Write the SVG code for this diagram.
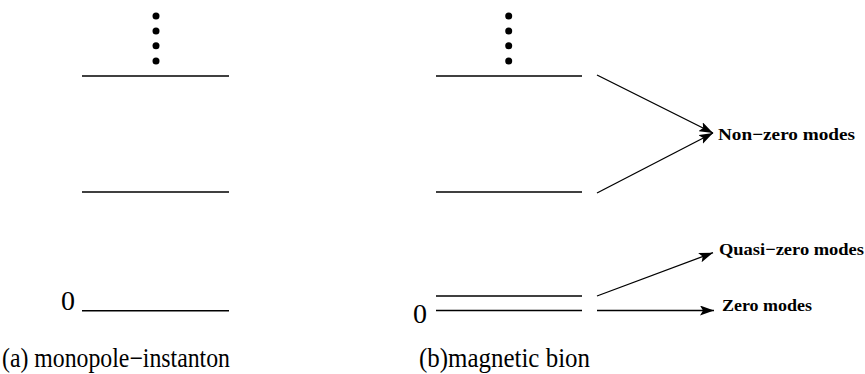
<svg xmlns="http://www.w3.org/2000/svg" width="865" height="374" viewBox="0 0 865 374">
<style>
.lvl{stroke:#000;stroke-width:1.6;fill:none}
.con{stroke:#000;stroke-width:1.3;fill:none}
.dot{fill:#000}
.cap{font-family:"Liberation Serif","Times New Roman",serif;font-size:27px;fill:#000}
.zero{font-family:"Liberation Serif","Times New Roman",serif;font-size:28px;fill:#000}
.lab{font-family:"Liberation Serif","Times New Roman",serif;font-size:17.5px;font-weight:bold;fill:#000}
</style>
<defs>
<marker id="ah" viewBox="0 0 14 10" refX="14" refY="5" markerWidth="14" markerHeight="10" markerUnits="userSpaceOnUse" orient="auto">
<path d="M0,0 L14,5 L0,10 L3,5 Z" fill="#000"/>
</marker>
</defs>
<rect width="865" height="374" fill="#fff"/>
<g id="monopole-instanton">
<circle class="dot" cx="156" cy="16" r="3.5"/>
<circle class="dot" cx="156" cy="31" r="3.5"/>
<circle class="dot" cx="156" cy="45.7" r="3.5"/>
<circle class="dot" cx="156" cy="61" r="3.5"/>
<line class="lvl" x1="82" y1="76" x2="229" y2="76"/>
<line class="lvl" x1="82" y1="192" x2="229" y2="192"/>
<line class="lvl" x1="82" y1="310.7" x2="229" y2="310.7"/>
<text class="zero" x="61" y="310">0</text>
<text class="cap" x="2" y="367" textLength="228" lengthAdjust="spacingAndGlyphs">(a) monopole−instanton</text>
</g>
<g id="magnetic-bion">
<circle class="dot" cx="508.7" cy="16" r="3.5"/>
<circle class="dot" cx="508.7" cy="31" r="3.5"/>
<circle class="dot" cx="508.7" cy="45.7" r="3.5"/>
<circle class="dot" cx="508.7" cy="61" r="3.5"/>
<line class="lvl" x1="436" y1="76" x2="582" y2="76"/>
<line class="lvl" x1="436" y1="192" x2="582" y2="192"/>
<line class="lvl" x1="436" y1="296" x2="582" y2="296"/>
<line class="lvl" x1="436" y1="310.5" x2="582" y2="310.5"/>
<text class="zero" x="413" y="323">0</text>
<text class="cap" x="419" y="367" textLength="171" lengthAdjust="spacingAndGlyphs">(b)magnetic bion</text>
</g>
<g id="label-nonzero"><text class="lab" x="718" y="140" textLength="137" lengthAdjust="spacingAndGlyphs">Non−zero modes</text></g>
<g id="label-quasizero"><text class="lab" x="719" y="255" textLength="145" lengthAdjust="spacingAndGlyphs">Quasi−zero modes</text></g>
<g id="label-zero"><text class="lab" x="722" y="311" textLength="90" lengthAdjust="spacingAndGlyphs">Zero modes</text></g>
<g id="connectors">
<line class="con" x1="597" y1="75" x2="713" y2="133" marker-end="url(#ah)"/>
<line class="con" x1="597" y1="193" x2="713" y2="133" marker-end="url(#ah)"/>
<line class="con" x1="597" y1="296" x2="713" y2="252.7" marker-end="url(#ah)"/>
<line class="con" x1="597" y1="310.5" x2="714" y2="310.5" marker-end="url(#ah)"/>
</g>
</svg>
